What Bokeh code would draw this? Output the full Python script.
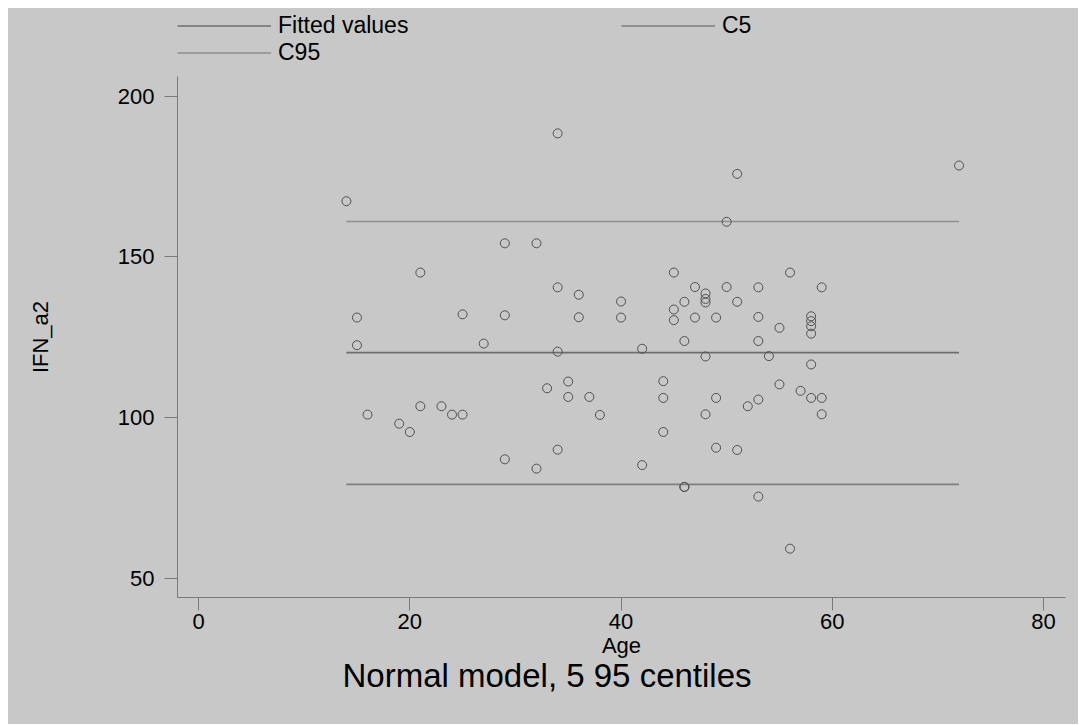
from bokeh.plotting import figure
from bokeh.models import Legend, LegendItem, Title, FixedTicker, Range1d
from bokeh.layouts import column
from bokeh.embed import file_html
from bokeh.resources import INLINE

# ---- data ----
age = [14, 15, 15, 16, 19, 20, 21, 21, 23, 24, 25, 25, 27,
       29, 29, 29, 32, 32, 33, 34, 34, 34, 34, 35, 35, 36, 36, 37, 38,
       40, 40, 42, 42, 44, 44, 44, 45, 45, 45, 46, 46, 46, 46, 47, 47,
       48, 48, 48, 48, 48, 49, 49, 49, 50, 50, 51, 51, 51, 52,
       53, 53, 53, 53, 53, 54, 55, 55, 56, 56, 57,
       58, 58, 58, 58, 58, 58, 59, 59, 59, 72]
ifn_a2 = [167.3, 131.1, 122.5, 100.9, 98.1, 95.5, 145.1, 103.5, 103.5, 100.9, 132.1, 100.9, 123.0,
          154.2, 131.8, 87.0, 154.2, 84.1, 109.1, 188.4, 140.5, 120.5, 90.0, 111.2, 106.4, 138.2, 131.2, 106.4, 100.8,
          136.1, 131.1, 121.4, 85.2, 111.3, 106.1, 95.5, 145.1, 133.6, 130.3, 136.0, 123.8, 78.4, 78.4, 140.6, 131.1,
          138.6, 136.9, 135.8, 119.0, 101.0, 131.1, 106.1, 90.6, 160.9, 140.6, 175.8, 136.0, 89.9, 103.5,
          140.5, 131.3, 123.8, 105.6, 75.4, 119.1, 127.9, 110.3, 145.1, 59.2, 108.3,
          131.5, 130.0, 128.4, 126.1, 116.5, 106.1, 140.5, 106.1, 101.0, 178.4]

fit_age = [14, 72]
fitted = [120.2, 120.2]
c5 = [79.2, 79.2]
c95 = [161.0, 161.0]

x_ticks = [0, 20, 40, 60, 80]
y_ticks = [50, 100, 150, 200]
series_names = ["Fitted values", "C5", "C95"]
series_colors = ["#6e6e6e", "#7e7e7e", "#8e8e8e"]

BG = "#c8c8c8"
FONT = "Liberation Sans"
W = 1070
BG_STYLE = {"background-color": BG}

# ---- main plot ----
p = figure(width=W, height=648, output_backend="svg", toolbar_location=None,
           x_range=Range1d(-1.99, 82.08), y_range=Range1d(44.0, 206.1),
           min_border_left=169, min_border_right=13, min_border_top=0, min_border_bottom=127,
           background_fill_color=BG, border_fill_color=BG, outline_line_color=None,
           styles=BG_STYLE)
p.grid.visible = False

fit_renderers = []
for ys, col in zip([fitted, c5, c95], series_colors):
    fit_renderers.append(p.line(fit_age, ys, line_color=col, line_width=1.6))
p.scatter(age, ifn_a2, marker="circle", size=9, fill_color=None,
          line_color="#505050", line_width=1)

for ax in (p.xaxis[0], p.yaxis[0]):
    ax.axis_line_color = "#7a7a7a"
    ax.major_tick_line_color = "#7a7a7a"
    ax.minor_tick_line_color = None
    ax.major_tick_in = 0
    ax.major_tick_out = 13
    ax.major_label_text_font = FONT
    ax.major_label_text_font_size = "22px"
    ax.major_label_text_color = "black"
    ax.axis_label_text_font = FONT
    ax.axis_label_text_font_size = "22px"
    ax.axis_label_text_font_style = "normal"
    ax.axis_label_text_color = "black"

p.xaxis.ticker = FixedTicker(ticks=x_ticks)
p.yaxis.ticker = FixedTicker(ticks=y_ticks)
p.xaxis.axis_label = "Age"
p.yaxis.axis_label = "IFN_a2"
p.xaxis.major_label_standoff = 3
p.xaxis.axis_label_standoff = 1
p.yaxis.major_label_standoff = 10
p.yaxis.axis_label_standoff = 62
p.yaxis.major_label_orientation = "horizontal"

p.add_layout(Title(text="Normal model, 5 95 centiles", align="left", offset=165,
                   text_font=FONT, text_font_size="33px", text_font_style="normal",
                   text_color="black", standoff=-12), "below")

# ---- legend strip on top (its line renderers mirror the fitted lines, off-range) ----
pl = figure(width=W, height=68, output_backend="svg", toolbar_location=None,
            x_range=Range1d(0, 1), y_range=Range1d(0, 1),
            x_axis_location=None, y_axis_location=None,
            min_border_left=169, min_border_right=13, min_border_top=0, min_border_bottom=0,
            background_fill_color=BG, border_fill_color=BG, outline_line_color=None,
            styles=BG_STYLE)
pl.grid.visible = False
items = []
for name, col in zip(series_names, series_colors):
    r = pl.line(x=[-10, -9], y=[-10, -10], line_color=col, line_width=1.6)
    items.append(LegendItem(label=name, renderers=[r]))
legend = Legend(items=items, orientation="horizontal", ncols=2, location=(0, 10),
                glyph_width=94, glyph_height=25, label_height=25, label_width=343,
                label_standoff=7, spacing=0, padding=0, margin=0,
                border_line_color=None, background_fill_alpha=0,
                label_text_font=FONT, label_text_font_size="23px", label_text_color="black")
pl.add_layout(legend, "center")

layout = column(pl, p, spacing=0, margin=(8, 0, 0, 8), styles=BG_STYLE)
open("out.html", "w").write(file_html(layout, INLINE))
